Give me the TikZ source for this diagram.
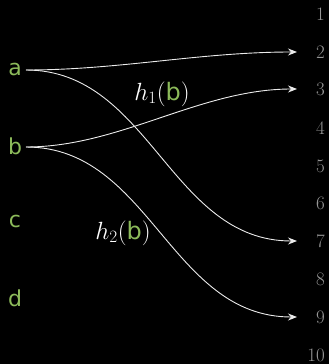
\documentclass[tikz,border=0pt]{standalone}
\usepackage{fontspec}
\newfontfamily\letterfont{DejaVu Sans}
\usetikzlibrary{arrows.meta}
\definecolor{lgreen}{RGB}{140,186,90}
\definecolor{numgray}{RGB}{150,150,150}
\begin{document}
\begin{tikzpicture}[x=1pt,y=-1pt,
  letter/.style={text=lgreen,font=\letterfont\fontsize{22}{22}\selectfont,inner sep=1pt},
  num/.style={text=numgray,font=\fontsize{19}{19}\selectfont,inner sep=0pt},
  conn/.style={draw=white!92!black,line width=0.9pt,-{Stealth[length=9pt,width=7pt]}},
  lab/.style={text=white,font=\fontsize{24}{24}\selectfont,inner sep=0pt}]
\fill[black] (0,0) rectangle (329,364);
\useasboundingbox (0,0) rectangle (329,364);
\node[letter] (a) at (15,69) {a};
\node[letter] (b) at (15,146) {b};
\node[letter] (c) at (15,221) {c};
\node[letter] (d) at (15,298) {d};
\foreach \i/\y in {1/14,2/52,3/89,4/128,5/166,6/203,7/241,8/279,9/317,10/355}{
  \node[num,anchor=east] (n\i) at (325,\y) {\i};
}
\coordinate (s2) at (297,52);
\coordinate (s3) at (297,89);
\coordinate (s7) at (297,241);
\coordinate (s9) at (297,317);
\coordinate (sa) at (26,70);
\coordinate (sb) at (26,147);
\draw[conn] (sa) .. controls (120,70) and (200,52) .. (s2);
\draw[conn] (sa) .. controls (150,70) and (170,241) .. (s7);
\draw[conn] (sb) .. controls (120,147) and (200,89) .. (s3);
\draw[conn] (sb) .. controls (150,147) and (170,317) .. (s9);
\node[lab] (h1) at (162,94) {$h_1($\textcolor{lgreen}{\letterfont b}$)$};
\node[lab] (h2) at (123,233) {$h_2($\textcolor{lgreen}{\letterfont b}$)$};
\end{tikzpicture}
\end{document}
